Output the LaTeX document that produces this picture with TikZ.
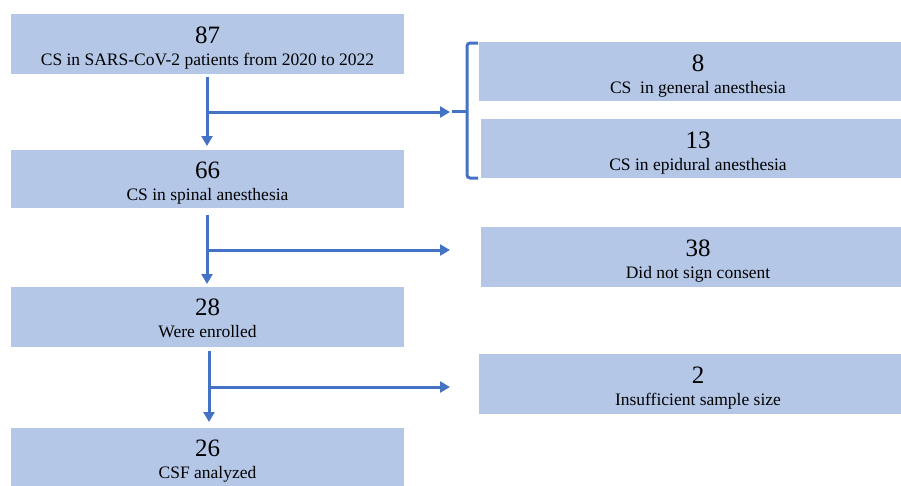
\documentclass[tikz,border=0pt]{standalone}
\usepackage{fontspec}
\setmainfont{Liberation Serif}
\newfontfamily\figserif{Liberation Serif}
\usetikzlibrary{arrows.meta,calc}
\definecolor{boxfill}{HTML}{B4C7E7}
\definecolor{arrowblue}{HTML}{4472C4}
\begin{document}
\begin{tikzpicture}[x=1pt,y=-1pt,
  box/.style={fill=boxfill,draw=none,inner sep=0pt,anchor=north west},
  numtext/.style={font=\figserif\fontsize{25}{25}\selectfont,anchor=base,inner sep=0pt},
  lbltext/.style={font=\figserif\fontsize{17.5}{17.5}\selectfont,anchor=base,inner sep=0pt},
  conn/.style={draw=arrowblue,line width=3pt},
  arr/.style={conn,-{Triangle[length=10pt,width=11pt]}},
  bracket/.style={draw=arrowblue,line width=3pt,rounded corners=3pt}]
\useasboundingbox (0,0) rectangle (901,485);
% left column boxes
\node[box,minimum width=393pt,minimum height=60pt] (b87) at (11,14) {};
\node[box,minimum width=393pt,minimum height=58pt] (b66) at (11,150) {};
\node[box,minimum width=393pt,minimum height=60pt] (b28) at (11,287) {};
\node[box,minimum width=393pt,minimum height=60pt] (b26) at (11,428) {};
% right column boxes
\node[box,minimum width=422pt,minimum height=59pt] (b8) at (479,42) {};
\node[box,minimum width=420pt,minimum height=59pt] (b13) at (481,119) {};
\node[box,minimum width=420pt,minimum height=60pt] (b38) at (481,227) {};
\node[box,minimum width=422pt,minimum height=60pt] (b2) at (479,354) {};
% texts
\node[numtext] (t87) at (207.5,43) {87};
\node[lbltext] (l87) at (207.5,65) {CS in SARS-CoV-2 patients from 2020 to 2022};
\node[numtext] (t66) at (207.5,178) {66};
\node[lbltext] (l66) at (207.5,200) {CS in spinal anesthesia};
\node[numtext] (t28) at (207.5,315) {28};
\node[lbltext] (l28) at (207.5,337) {Were enrolled};
\node[numtext] (t26) at (207.5,456) {26};
\node[lbltext] (l26) at (207.5,478) {CSF analyzed};
\node[numtext] (t8) at (698,71) {8};
\node[lbltext] (l8) at (698,93) {CS\ \ in general anesthesia};
\node[numtext] (t13) at (698,148) {13};
\node[lbltext] (l13) at (698,170) {CS in epidural anesthesia};
\node[numtext] (t38) at (698,256) {38};
\node[lbltext] (l38) at (698,278) {Did not sign consent};
\node[numtext] (t2) at (698,383) {2};
\node[lbltext] (l2) at (698,405) {Insufficient sample size};
% junctions and bracket
\coordinate (j1) at (207,112);
\coordinate (j2) at (207,250);
\coordinate (j3) at (209,387);
\coordinate (bt) at (478,43);
\coordinate (bb) at (478,178);
\coordinate (bm) at (467,111);
\coordinate (bn) at (452,111);
% vertical arrows
\draw[arr] (207,77) -- (207,146);
\draw[arr] (207,215) -- (207,284);
\draw[arr] (209,351) -- (209,422);
% horizontal branches
\draw[arr] (j1) -- (450,112);
\draw[arr] (j2) -- (450,250);
\draw[arr] (j3) -- (450,387);
% bracket
\draw[bracket] (bt) -- (bt -| bm) -- (bb -| bm) -- (bb);
\draw[conn] (bn) -- (bm);
\end{tikzpicture}
\end{document}
